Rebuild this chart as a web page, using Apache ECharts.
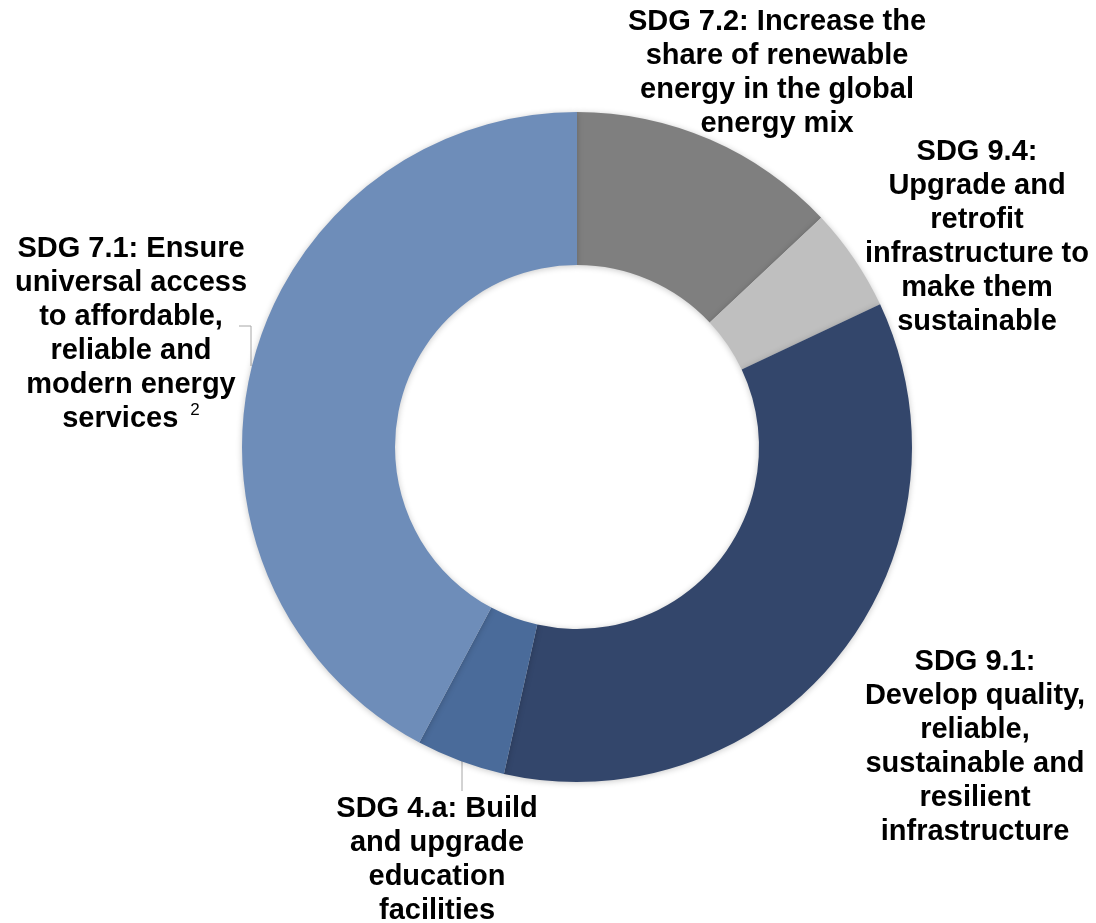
<!DOCTYPE html>
<html>
<head>
<meta charset="utf-8">
<script src="https://cdn.jsdelivr.net/npm/echarts@6/dist/echarts.min.js"></script>
<style>
html,body{margin:0;padding:0;background:#fff;}
#chart{width:1096px;height:923px;}
</style>
</head>
<body>
<div id="chart"></div>
<script>
// ---- data ----
const categories = ['SDG 7.2', 'SDG 9.4', 'SDG 9.1', 'SDG 4.a', 'SDG 7.1'];
const labelTexts = [
  'SDG 7.2: Increase the\nshare of renewable\nenergy in the global\nenergy mix',
  'SDG 9.4:\nUpgrade and\nretrofit\ninfrastructure to\nmake them\nsustainable',
  'SDG 9.1:\nDevelop quality,\nreliable,\nsustainable and\nresilient\ninfrastructure',
  'SDG 4.a: Build\nand upgrade\neducation\nfacilities',
  'SDG 7.1: Ensure\nuniversal access\nto affordable,\nreliable and\nmodern energy\nservices {sup|2}'
];
const values = [13.0, 5.0, 35.5, 4.3, 42.2];
const colors = ['#7f7f7f', '#bfbfbf', '#33466b', '#4a6b9a', '#6e8db9'];

// ---- layout (label placement) ----
const labelPos = [
  {x: 777, y: 73},
  {x: 977, y: 237},
  {x: 975, y: 747},
  {x: 437, y: 860},
  {x: 131, y: 334}
];
const linePts = [
  null, null, null,
  [[462, 761], [462, 776], [462, 791]],
  [[251, 366], [251, 326], [239, 326]]
];

const chart = echarts.init(document.getElementById('chart'));
chart.setOption({
  backgroundColor: '#ffffff',
  animation: false,
  series: [{
    type: 'pie',
    center: [577, 447],
    radius: [182, 335],
    startAngle: 90,
    clockwise: true,
    avoidLabelOverlap: false,
    itemStyle: {
      borderWidth: 0,
      shadowBlur: 6,
      shadowColor: 'rgba(0,0,0,0.22)',
      shadowOffsetY: 1
    },
    label: {
      show: true,
      formatter: p => labelTexts[p.dataIndex],
      fontFamily: 'Liberation Sans, Arial, sans-serif',
      fontWeight: 'bold',
      fontSize: 29,
      lineHeight: 34,
      color: '#000',
      align: 'center',
      rich: {
        sup: {fontSize: 17, fontWeight: 'normal', fontFamily: 'Liberation Sans, Arial, sans-serif', color: '#000', verticalAlign: 'top', lineHeight: 34, padding: [0, 0, 12, 4]}
      }
    },
    labelLine: {show: true, lineStyle: {color: '#a6a6a6', width: 1}, length: 5, length2: 5},
    labelLayout: function (params) {
      const i = params.dataIndex;
      const o = {x: labelPos[i].x, y: labelPos[i].y, align: 'center', verticalAlign: 'middle'};
      o.labelLinePoints = linePts[i] || [[0,0],[0,0],[0,0]];
      return o;
    },
    emphasis: {disabled: true},
    data: categories.map((c, i) => ({
      name: c,
      value: values[i],
      itemStyle: {color: colors[i]},
      labelLine: {show: !!linePts[i]}
    }))
  }]
});
</script>
</body>
</html>
